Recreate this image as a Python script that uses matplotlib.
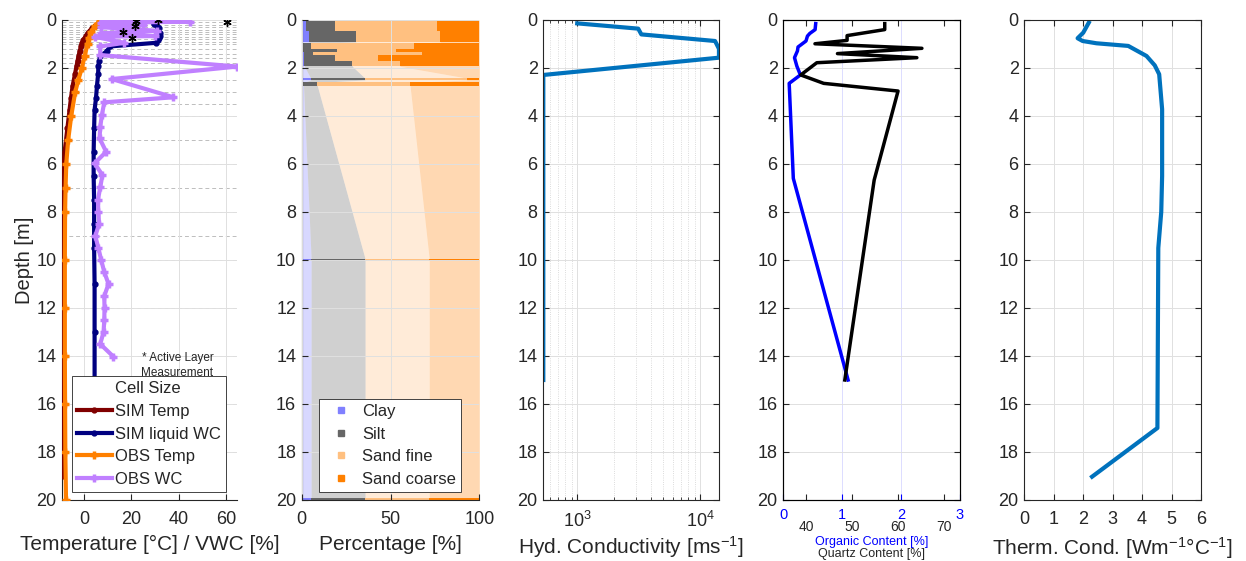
import numpy as np
import matplotlib
matplotlib.use('Agg')
import matplotlib.pyplot as plt
from matplotlib.lines import Line2D
from matplotlib.ticker import LogLocator, NullFormatter

plt.rcParams['font.family'] = ['Liberation Sans', 'DejaVu Sans']
plt.rcParams['mathtext.default'] = 'regular'
plt.rcParams['text.color'] = '#262626'
plt.rcParams['axes.labelcolor'] = '#262626'
plt.rcParams['xtick.color'] = '#262626'
plt.rcParams['ytick.color'] = '#262626'

# ---- panel 1: temperature / water content profiles
cell_edges = [0.0, 0.1, 0.2, 0.3, 0.4, 0.5, 0.6, 0.7, 0.8, 0.9, 1.0, 1.2, 1.4, 1.6,
              1.8, 2.0, 2.5, 3.0, 3.5, 4.0, 5.0, 6.0, 7.0, 8.0, 9.0, 10.0, 12.0,
              14.0, 16.0, 18.0, 20.0]
sim_depth = [0.05, 0.15, 0.25, 0.35, 0.45, 0.55, 0.65, 0.75, 0.85, 0.95, 1.1, 1.3,
             1.5, 1.7, 1.9, 2.25, 2.75, 3.25, 3.75, 4.5, 5.5, 6.5, 7.5, 8.5, 9.5,
             11, 13, 15, 17, 19]
sim_temp = [7.5, 5.8, 4.5, 3.3, 2.3, 1.5, 0.8, 0.2, -0.4, -0.9, -1.4, -1.9, -2.4,
            -2.8, -3.2, -3.9, -4.9, -5.6, -6.2, -7.1, -8.3, -9.0, -9.4, -9.6, -9.7,
            -9.7, -9.7, -9.6, -9.4, -9.1]
sim_lwc = [28.6, 29.5, 31.0, 31.5, 31.0, 32.0, 32.1, 31.8, 31.4, 30.5, 11.0, 9.6,
           6.8, 6.4, 6.0, 5.9, 5.4, 5.0, 4.4, 4.2, 4.0, 4.0, 4.2, 4.2, 4.2, 4.4,
           4.4, 4.4, 4.4, 4.4]
obs_t_depth = [0, 0.25, 0.5, 0.75, 1.0, 1.5, 2.0, 2.5, 3.0, 4, 5, 6, 7, 8, 10, 12,
               14, 16, 18, 20]
obs_temp = [6.8, 4.6, 2.9, 2.0, 1.4, 0.2, -1.0, -2.5, -3.8, -5.5, -6.8, -7.6, -7.9,
            -8.1, -8.2, -8.2, -8.2, -8.1, -8.0, -7.7]
obs_wc_depth = [0.02, 0.07, 0.12, 0.2, 0.3, 0.45, 0.55, 0.67, 0.7, 0.95, 1.1, 1.46,
                1.94, 2.46, 3.22, 3.43, 3.96, 4.44, 4.93, 5.49, 5.97, 6.46, 6.97,
                7.5, 7.99, 8.5, 9.0, 9.5, 10.0, 10.5, 11.0, 11.5, 12.0, 12.5, 13.0,
                13.5, 14.03]
obs_wc = [8, 45, 7, 25, 7, 31, 7, 30, 4.5, 17, 6.8, 6.8, 64.8, 11.7, 37.8, 8.5,
          7.5, 6.8, 6.5, 9.3, 4.4, 7.7, 6.8, 5.8, 6.0, 6.3, 4.7, 6.0, 7.2, 8.5,
          10.3, 8.5, 8.6, 8.5, 8.2, 6.8, 12.4]
al_depth = [0.05, 0.0, 0.07, 0.25, 0.51, 0.76]
al_wc = [21.9, 31.4, 60.3, 21.3, 16.6, 20.4]

# ---- panel 2: soil texture layers (top, bottom, clay, silt, sand fine, sand coarse)
lay_top = [0.0, 0.46, 0.97, 1.20, 1.34, 1.44, 1.72, 2.42, 2.60, 9.95, 19.9]
lay_bot = [0.46, 0.92, 1.20, 1.34, 1.44, 1.72, 1.93, 2.50, 2.74, 10.05, 20.0]
clay = [2.4, 4.3, 1.0, 1.0, 1.5, 1.5, 1.5, 5.0, 1.0, 5.3, 5.3]
silt = [16.6, 26.2, 4.0, 18.7, 4.7, 17.3, 27.0, 30.6, 7.8, 30.4, 30.4]
sand_fine = [57.0, 47.5, 58.2, 33.4, 61.3, 24.0, 26.8, 57.3, 52.2, 36.1, 36.1]
sand_coarse = [24.0, 22.0, 36.8, 46.9, 32.5, 57.2, 44.7, 7.1, 39.0, 28.2, 28.2]
texture_names = ['Clay', 'Silt', 'Sand fine', 'Sand coarse']
texture_colors = ['#8080ff', '#666666', '#ffc080', '#ff8000']

# ---- panel 3: hydraulic conductivity
hk_depth = [0.14, 0.36, 0.60, 0.875, 1.01, 1.2, 1.57, 2.29, 15.0]
hk = [1000, 3130, 3320, 13180, 13600, 14190, 14190, 530, 530]

# ---- panel 4: organic / quartz content
oc_depth = [0.15, 0.4, 0.56, 0.67, 0.875, 1.125, 1.29, 1.57, 1.92, 2.29, 2.64, 6.6, 15.0]
oc = [0.55, 0.54, 0.45, 0.41, 0.385, 0.25, 0.24, 0.19, 0.23, 0.29, 0.10, 0.17, 1.1]
qc_depth = [0.15, 0.4, 0.65, 0.85, 0.99, 1.18, 1.4, 1.57, 1.78, 2.29, 2.64, 2.96, 6.67, 15.0]
qc = [57.1, 57.1, 48.9, 48.9, 41.9, 65.2, 46.8, 64.1, 42.3, 38.8, 43.8, 60.0, 54.8, 48.4]

# ---- panel 5: thermal conductivity
tc_depth = [0.11, 0.53, 0.76, 0.875, 0.97, 1.08, 1.5, 1.89, 2.26, 3.72, 6.5, 8.0, 9.5,
            17.0, 19.03]
tc = [2.19, 2.0, 1.81, 1.98, 2.45, 3.53, 4.15, 4.43, 4.58, 4.68, 4.68, 4.65, 4.55,
      4.52, 2.3]

TXT = '#262626'
GRID = '#e0e0e0'
TICK_FS = 13
LAB_FS = 15


def depth_axis(ax, box=True):
    ax.set_ylim(20, 0)
    ax.set_yticks(np.arange(0, 21, 2))
    ax.tick_params(direction='in', length=4, width=0.8, labelsize=TICK_FS)
    ax.tick_params(axis='y', pad=4)
    ax.tick_params(axis='x', pad=8)
    ax.grid(True, color=GRID, lw=0.7)
    for s in ax.spines.values():
        s.set_color(TXT)
        s.set_linewidth(0.8)
    if box:
        ax.tick_params(top=True, right=True)
    else:
        ax.spines['top'].set_visible(False)
        ax.spines['right'].set_visible(False)


fig = plt.figure(figsize=(12.46, 5.61), dpi=100)
W, Hf = 1246.0, 561.0
bot = 1 - 500 / Hf
hgt = 480 / Hf


def add_ax(left, right):
    return fig.add_axes([left / W, bot, (right - left) / W, hgt])


def boxed_legend(ax, handles, anchor, **kw):
    leg = ax.legend(handles=handles, loc='lower left', bbox_to_anchor=anchor,
                    fontsize=12, labelspacing=0.46, borderpad=0.3,
                    fancybox=False, framealpha=1, edgecolor=TXT,
                    borderaxespad=0, **kw)
    leg.get_frame().set_linewidth(0.6)
    return leg


# ---------------- panel 1
ax1 = add_ax(62, 237)
depth_axis(ax1, box=False)
ax1.set_xlim(-9.4, 64.7)
ax1.set_xticks([0, 20, 40, 60])
ax1.hlines(cell_edges, -9.4, 64.7, colors='#bdbdbd', linestyles=(0, (4, 3)),
           lw=0.7, zorder=1)
l1, = ax1.plot(sim_temp, sim_depth, color='#800000', lw=3, marker='.', ms=7,
               label='SIM Temp', zorder=3)
l2, = ax1.plot(sim_lwc, sim_depth, color='#000080', lw=3, marker='.', ms=7,
               label='SIM liquid WC', zorder=3)
l3, = ax1.plot(obs_temp, obs_t_depth, color='#ff8000', lw=3, marker='+', ms=6,
               mew=2.5, label='OBS Temp', zorder=3)
l4, = ax1.plot(obs_wc, obs_wc_depth, color='#c080ff', lw=3, marker='+', ms=6,
               mew=2.5, label='OBS WC', zorder=3)
ax1.plot(al_wc, al_depth, ls='none', marker=(6, 2, 0), ms=6, mew=1,
         color='k', zorder=4)
ax1.text(39.5, 14.4, '* Active Layer\nMeasurement', fontsize=8.5, ha='center',
         va='center', linespacing=1.35, zorder=2)
cell_h = Line2D([], [], color='none', label='Cell Size')
boxed_legend(ax1, [cell_h, l1, l2, l3, l4], (0.057, 0.017),
             handlelength=2.1, handletextpad=0.2)
ax1.set_xlabel('Temperature [°C] / VWC [%]', fontsize=LAB_FS, labelpad=5)
ax1.set_ylabel('Depth [m]', fontsize=14.5, labelpad=2)

# ---------------- panel 2
ax2 = add_ax(301.7, 479.3)
depth_axis(ax2, box=False)
ax2.set_axisbelow(False)
ax2.set_xlim(0, 100)
ax2.set_xticks([0, 50, 100])
fracs = np.array([clay, silt, sand_fine, sand_coarse])
cum = np.vstack([np.zeros(len(clay)), np.cumsum(fracs, axis=0)])
yy = np.ravel(np.column_stack([lay_top, lay_bot]))
for i, c in enumerate(texture_colors):
    lo = np.repeat(cum[i], 2)
    hi = np.repeat(cum[i + 1], 2)
    ax2.fill_betweenx(yy, lo, hi, color=c, alpha=0.3, lw=0, zorder=1)
    ax2.barh(np.add(lay_top, lay_bot) / 2, fracs[i], left=cum[i],
             height=np.subtract(lay_bot, lay_top), color=c, lw=0, zorder=2)
tex_h = [Line2D([], [], ls='none', marker='s', ms=5, color=c, label=n)
         for n, c in zip(texture_names, texture_colors)]
boxed_legend(ax2, tex_h, (0.097, 0.017), handlelength=2.0, handletextpad=0.3)
ax2.set_xlabel('Percentage [%]', fontsize=LAB_FS, labelpad=5)

# ---------------- panel 3
ax3 = add_ax(543.3, 719)
depth_axis(ax3)
ax3.set_xscale('log')
ax3.set_xlim(530, 14200)
ax3.xaxis.set_major_locator(LogLocator(base=10, numticks=10))
ax3.xaxis.set_minor_locator(LogLocator(base=10, subs=np.arange(2, 10), numticks=10))
ax3.xaxis.set_minor_formatter(NullFormatter())
ax3.tick_params(axis='x', which='minor', direction='in', length=2.5, top=True)
ax3.grid(True, which='minor', axis='x', color='#d0d0d0', lw=0.6, ls=':')
ax3.plot(hk, hk_depth, color='#0072bd', lw=3)
ax3.set_xlabel('Hyd. Conductivity [ms$^{-1}$]', fontsize=LAB_FS, labelpad=2)

# ---------------- panel 4
ax4 = add_ax(783.3, 960)
depth_axis(ax4)
ax4.set_xlim(0, 3)
ax4.set_xticks([0, 1, 2, 3])
ax4.grid(False, axis='x')
ax4.grid(True, axis='x', color='#dcdcff', lw=0.7)
ax4.tick_params(axis='x', colors='blue', labelsize=10.5, pad=6, top=True)
ax4.plot(oc, oc_depth, color='blue', lw=2.5)
ax4q = ax4.twiny()
ax4q.set_xlim(35, 73.5)
ax4q.set_xticks([40, 50, 60, 70])
ax4q.xaxis.set_ticks_position('both')
ax4q.tick_params(axis='x', direction='in', length=4, width=0.8, labelsize=10,
                 pad=14.5, labelbottom=True, labeltop=False, colors=TXT)
ax4q.plot(qc, qc_depth, color='k', lw=2.5)
ax4.text(0.5, -0.088, 'Organic Content [%]', color='blue', fontsize=9,
         ha='center', va='center', transform=ax4.transAxes)
ax4.text(0.5, -0.113, 'Quartz Content [%]', color=TXT, fontsize=9,
         ha='center', va='center', transform=ax4.transAxes)

# ---------------- panel 5
ax5 = add_ax(1024.3, 1201)
depth_axis(ax5)
ax5.set_xlim(0, 6)
ax5.set_xticks(np.arange(0, 7))
ax5.plot(tc, tc_depth, color='#0072bd', lw=3)
ax5.set_xlabel('Therm. Cond. [Wm$^{-1}$°C$^{-1}$]', fontsize=LAB_FS, labelpad=5)

fig.savefig('out.png', dpi=100)
